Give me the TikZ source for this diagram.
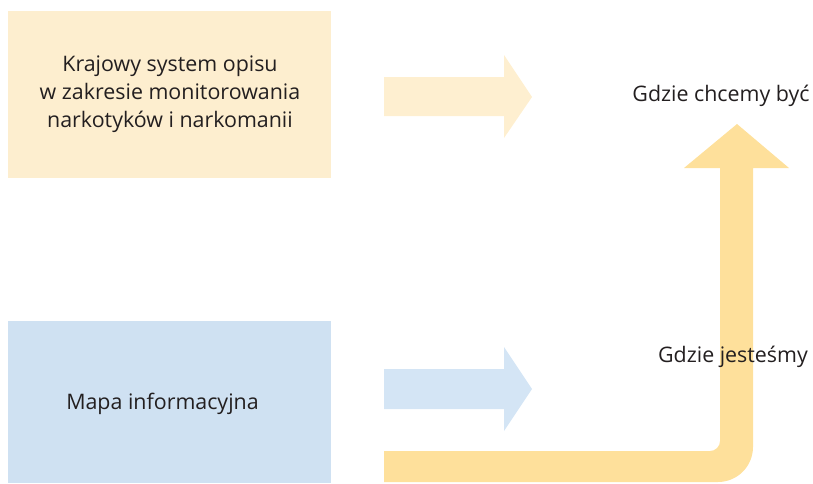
\documentclass[tikz,border=0pt]{standalone}
\usepackage{fontspec}
\setmainfont{Open Sans}
\definecolor{creamfill}{HTML}{FDEECF}
\definecolor{creamarrow}{HTML}{FEEFD0}
\definecolor{bluefill}{HTML}{CFE1F2}
\definecolor{bluearrow}{HTML}{D4E5F5}
\definecolor{goldarrow}{HTML}{FEE09B}
\definecolor{inktext}{HTML}{231F20}
\tikzset{
  boxnode/.style={inner sep=0pt, text=inktext, align=center, font=\fontsize{21.4}{28}\selectfont},
  labelnode/.style={inner sep=0pt, anchor=base, text=inktext, font=\fontsize{21.4}{28}\selectfont},
}
\begin{document}
\begin{tikzpicture}[x=1pt,y=-1pt]
\useasboundingbox (0,0) rectangle (813,483);
% boxes
\fill[creamfill] (8,11) rectangle (331,178);
\node[boxnode] (top) at (170,94.5) {Krajowy system opisu\\w zakresie monitorowania\\narkotyków i narkomanii};
\fill[bluefill] (8,321) rectangle (331,483);
\node[boxnode] (bottom) at (162.5,404) {Mapa informacyjna};
% small arrows
\fill[creamarrow] (384,77) -- (504,77) -- (504,55) -- (532,97) -- (504,138) -- (504,116) -- (384,116) -- cycle;
\fill[bluearrow] (384,369) -- (504,369) -- (504,347) -- (532,389) -- (504,431) -- (504,409) -- (384,409) -- cycle;
% big bent arrow
\fill[goldarrow] (384,451) -- (710,451) .. controls (715.5,451) and (720,446.5) .. (720,441)
  -- (720,168) -- (684,168) -- (737,124) -- (789,168) -- (753,168)
  -- (753,447) .. controls (753,466.3) and (737.3,482) .. (718,482) -- (384,482) -- cycle;
% labels
\node[labelnode] (want) at (721,101) {Gdzie chcemy być};
\node[labelnode] (now) at (733,362) {Gdzie jesteśmy};
\end{tikzpicture}
\end{document}
